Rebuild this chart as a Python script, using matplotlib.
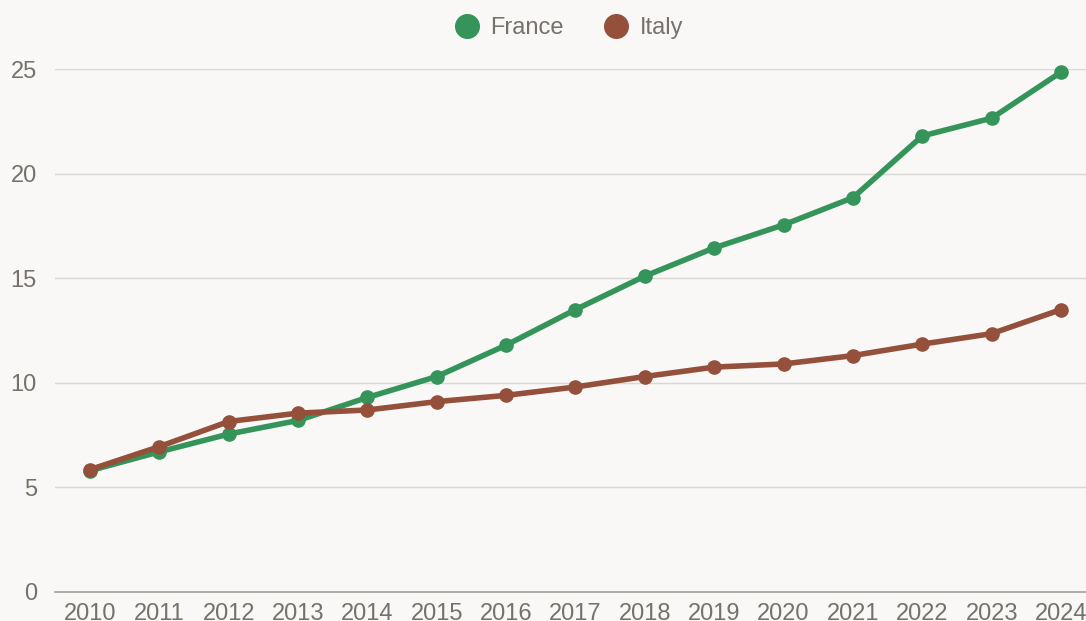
import matplotlib
matplotlib.use("Agg")
import matplotlib.pyplot as plt
from matplotlib.lines import Line2D

years = list(range(2010, 2025))
france = [5.8, 6.7, 7.55, 8.2, 9.3, 10.3, 11.8, 13.5, 15.1, 16.45, 17.55, 18.85, 21.8, 22.65, 24.85]
italy = [5.85, 6.95, 8.15, 8.55, 8.7, 9.1, 9.4, 9.8, 10.3, 10.75, 10.9, 11.3, 11.85, 12.35, 13.5]

bg = "#f9f8f6"
text_col = "#76716b"
c_france = "#35945a"
c_italy = "#94503b"

plt.rcParams['font.family'] = ['Liberation Sans', 'DejaVu Sans']

fig = plt.figure(figsize=(10.86, 6.21), dpi=100, facecolor=bg)
ax = fig.add_axes([55 / 1086, 1 - 592 / 621, 1 - 55 / 1086, (592 - 69) / 621])
ax.set_facecolor(bg)

ax.plot(years, france, color=c_france, lw=4, marker="o", ms=9.5, zorder=3, clip_on=False)
ax.plot(years, italy, color=c_italy, lw=4, marker="o", ms=9.5, zorder=4, clip_on=False)

ax.set_xlim(2010 - 35 / 69.36, 2024 + 25 / 69.36)
ax.set_ylim(0, 25)
ax.set_yticks([0, 5, 10, 15, 20, 25])
ax.set_xticks(years)
ax.set_xticklabels([str(y) for y in years])

for s in ["top", "right", "left"]:
    ax.spines[s].set_visible(False)
ax.spines["bottom"].set_color("#a9a6a1")
ax.spines["bottom"].set_linewidth(1.3)
ax.spines["bottom"].set_zorder(2)

ax.grid(axis="y", color="#d9d7d4", lw=1.0, zorder=0)
ax.set_axisbelow(True)
ax.tick_params(axis="both", length=0, labelsize=17, labelcolor=text_col)
ax.tick_params(axis="x", pad=8)
ax.tick_params(axis="y", pad=13)

handles = [
    Line2D([], [], ls="none", marker="o", ms=17, color=c_france, label="France"),
    Line2D([], [], ls="none", marker="o", ms=17, color=c_italy, label="Italy"),
]
fig.legend(handles=handles, loc="center", bbox_to_anchor=(569 / 1086, 1 - 28 / 621), ncol=2,
           frameon=False, fontsize=17, labelcolor=text_col, handletextpad=0.5,
           columnspacing=1.7, handlelength=1.0)

fig.savefig("out.png", dpi=100, facecolor=bg)
